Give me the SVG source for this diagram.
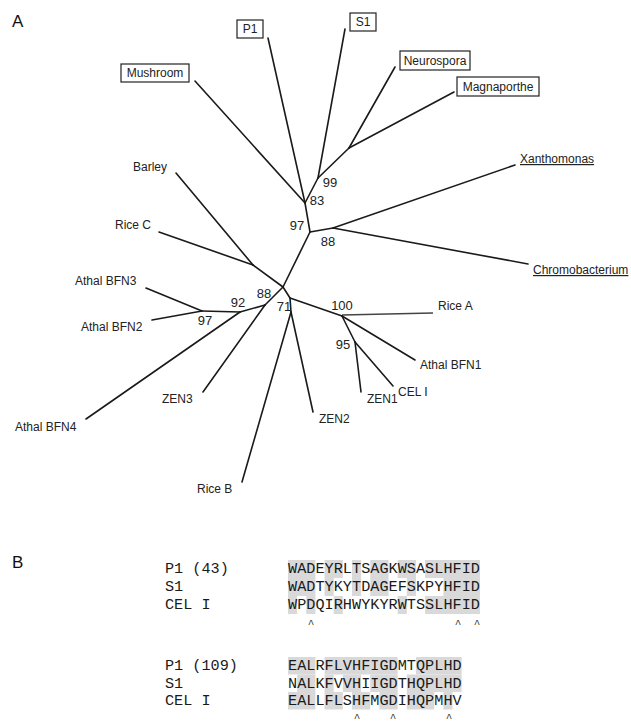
<svg xmlns="http://www.w3.org/2000/svg" width="631" height="724" viewBox="0 0 631 724">
<style>
.br{stroke:#1a1a1a;stroke-width:1.6;fill:none;stroke-linecap:round}
.lf{font-family:"Liberation Sans",Arial,sans-serif;font-size:12px;fill:#222}
.bs{font-family:"Liberation Sans",Arial,sans-serif;font-size:13px;fill:#222}
.box{fill:#fff;stroke:#222;stroke-width:1.2}
.pl{font-family:"Liberation Sans",Arial,sans-serif;font-size:17px;fill:#111}
.sq{font-family:"Liberation Mono","Courier New",monospace;font-size:15.2px;fill:#1a1a1a}
.sh{fill:#d9d9d9}
.ct{font-family:"Liberation Mono","Courier New",monospace;font-size:11px;fill:#333;text-anchor:middle}
</style>
<rect width="631" height="724" fill="#fff"/>
<text class="pl" x="12" y="27">A</text>
<text class="pl" x="12" y="568">B</text>
<g id="connectors">
<line class="br" x1="268" y1="38" x2="305" y2="203"/>
<line class="br" x1="195" y1="81" x2="305" y2="203"/>
<line class="br" x1="345" y1="29" x2="318" y2="178"/>
<line class="br" x1="305" y1="203" x2="318" y2="178"/>
<line class="br" x1="318" y1="178" x2="349" y2="148"/>
<line class="br" x1="349" y1="148" x2="395" y2="67"/>
<line class="br" x1="349" y1="148" x2="454" y2="92"/>
<line class="br" x1="305" y1="203" x2="310" y2="232"/>
<line class="br" x1="310" y1="232" x2="333" y2="228"/>
<line class="br" x1="333" y1="228" x2="515" y2="165"/>
<line class="br" x1="333" y1="228" x2="528" y2="264"/>
<line class="br" x1="310" y1="232" x2="283" y2="287"/>
<line class="br" x1="283" y1="287" x2="253" y2="265"/>
<line class="br" x1="253" y1="265" x2="176" y2="173"/>
<line class="br" x1="253" y1="265" x2="159" y2="232"/>
<line class="br" x1="283" y1="287" x2="265" y2="305"/>
<line class="br" x1="265" y1="305" x2="203" y2="392"/>
<line class="br" x1="265" y1="305" x2="240" y2="312"/>
<line class="br" x1="240" y1="312" x2="86" y2="419"/>
<line class="br" x1="240" y1="312" x2="202" y2="311"/>
<line class="br" x1="202" y1="311" x2="146" y2="288"/>
<line class="br" x1="202" y1="311" x2="152" y2="320"/>
<line class="br" x1="283" y1="287" x2="290" y2="298"/>
<line class="br" x1="290" y1="298" x2="291" y2="312"/>
<line class="br" x1="291" y1="312" x2="242" y2="482"/>
<line class="br" x1="291" y1="312" x2="313" y2="412"/>
<line class="br" x1="290" y1="298" x2="342" y2="316"/>
<line x1="342" y1="315" x2="433" y2="313" stroke="#444" stroke-width="1.3"/>
<line class="br" x1="342" y1="316" x2="415" y2="360"/>
<line class="br" x1="342" y1="316" x2="355" y2="342"/>
<line class="br" x1="355" y1="342" x2="361" y2="392"/>
<line class="br" x1="355" y1="342" x2="393" y2="386"/>
</g>
<g id="bootstrap">
<text class="bs" x="330" y="187" text-anchor="middle">99</text>
<text class="bs" x="317" y="205" text-anchor="middle">83</text>
<text class="bs" x="297" y="230" text-anchor="middle">97</text>
<text class="bs" x="328" y="246" text-anchor="middle">88</text>
<text class="bs" x="264" y="298" text-anchor="middle">88</text>
<text class="bs" x="238" y="307" text-anchor="middle">92</text>
<text class="bs" x="205" y="325" text-anchor="middle">97</text>
<text class="bs" x="284" y="311" text-anchor="middle">71</text>
<text class="bs" x="342" y="310" text-anchor="middle">100</text>
<text class="bs" x="343" y="349" text-anchor="middle">95</text>
</g>
<g id="n-p1"><rect class="box" x="237" y="20" width="26" height="18"/><text class="lf" x="250" y="33" text-anchor="middle">P1</text></g>
<g id="n-s1"><rect class="box" x="350" y="13" width="26" height="18"/><text class="lf" x="363" y="26" text-anchor="middle">S1</text></g>
<g id="n-mushroom"><rect class="box" x="121" y="64" width="68" height="18"/><text class="lf" x="155" y="77" text-anchor="middle">Mushroom</text></g>
<g id="n-neurospora"><rect class="box" x="400" y="51" width="70" height="19"/><text class="lf" x="435" y="64.5" text-anchor="middle">Neurospora</text></g>
<g id="n-magnaporthe"><rect class="box" x="457" y="77" width="82" height="19"/><text class="lf" x="498" y="90.5" text-anchor="middle">Magnaporthe</text></g>
<g id="n-xanthomonas"><text class="lf" x="520" y="163" text-decoration="underline">Xanthomonas</text></g>
<g id="n-chromobacterium"><text class="lf" x="533" y="274" text-decoration="underline">Chromobacterium</text></g>
<g id="n-barley"><text class="lf" x="133" y="171">Barley</text></g>
<g id="n-ricec"><text class="lf" x="115" y="229">Rice C</text></g>
<g id="n-bfn3"><text class="lf" x="75" y="285">Athal BFN3</text></g>
<g id="n-bfn2"><text class="lf" x="81" y="331">Athal BFN2</text></g>
<g id="n-bfn4"><text class="lf" x="15" y="431">Athal BFN4</text></g>
<g id="n-zen3"><text class="lf" x="162" y="403">ZEN3</text></g>
<g id="n-riceb"><text class="lf" x="197" y="493">Rice B</text></g>
<g id="n-zen2"><text class="lf" x="319" y="423">ZEN2</text></g>
<g id="n-zen1"><text class="lf" x="367" y="403">ZEN1</text></g>
<g id="n-celi"><text class="lf" x="398" y="396">CEL I</text></g>
<g id="n-bfn1"><text class="lf" x="420" y="369">Athal BFN1</text></g>
<g id="n-ricea"><text class="lf" x="438" y="310">Rice A</text></g>
<g id="alignment1">
<rect class="sh" x="288" y="560" width="27.42" height="18"/>
<rect class="sh" x="324.56" y="560" width="18.28" height="18"/>
<rect class="sh" x="351.98" y="560" width="9.14" height="18"/>
<rect class="sh" x="370.26" y="560" width="18.28" height="18"/>
<rect class="sh" x="397.68" y="560" width="18.28" height="18"/>
<rect class="sh" x="425.1" y="560" width="54.84" height="18"/>
<rect class="sh" x="288" y="578" width="27.42" height="18"/>
<rect class="sh" x="324.56" y="578" width="9.14" height="18"/>
<rect class="sh" x="351.98" y="578" width="9.14" height="18"/>
<rect class="sh" x="370.26" y="578" width="18.28" height="18"/>
<rect class="sh" x="406.82" y="578" width="9.14" height="18"/>
<rect class="sh" x="443.38" y="578" width="36.56" height="18"/>
<rect class="sh" x="288" y="596" width="9.14" height="18"/>
<rect class="sh" x="306.28" y="596" width="9.14" height="18"/>
<rect class="sh" x="333.7" y="596" width="9.14" height="18"/>
<rect class="sh" x="397.68" y="596" width="9.14" height="18"/>
<rect class="sh" x="425.1" y="596" width="54.84" height="18"/>
<text class="sq" x="165" y="573">P1 (43)</text>
<text class="sq" x="165" y="591">S1</text>
<text class="sq" x="165" y="609">CEL I</text>
<text class="sq" x="288" y="573" textLength="191.94" lengthAdjust="spacing">WADEYRLTSAGKWSASLHFID</text>
<text class="sq" x="288" y="591" textLength="191.94" lengthAdjust="spacing">WADTYKYTDAGEFSKPYHFID</text>
<text class="sq" x="288" y="609" textLength="191.94" lengthAdjust="spacing">WPDQIRHWYKYRWTSSLHFID</text>
<text class="ct" x="311" y="627">^</text>
<text class="ct" x="458" y="627">^</text>
<text class="ct" x="477" y="627">^</text>
</g>
<g id="alignment2">
<rect class="sh" x="288" y="657" width="27.42" height="17.5"/>
<rect class="sh" x="324.56" y="657" width="73.12" height="17.5"/>
<rect class="sh" x="415.96" y="657" width="45.7" height="17.5"/>
<rect class="sh" x="297.14" y="674.5" width="18.28" height="17.5"/>
<rect class="sh" x="324.56" y="674.5" width="9.14" height="17.5"/>
<rect class="sh" x="342.84" y="674.5" width="18.28" height="17.5"/>
<rect class="sh" x="370.26" y="674.5" width="27.42" height="17.5"/>
<rect class="sh" x="406.82" y="674.5" width="54.84" height="17.5"/>
<rect class="sh" x="288" y="692" width="27.42" height="17.5"/>
<rect class="sh" x="324.56" y="692" width="18.28" height="17.5"/>
<rect class="sh" x="351.98" y="692" width="18.28" height="17.5"/>
<rect class="sh" x="379.4" y="692" width="18.28" height="17.5"/>
<rect class="sh" x="406.82" y="692" width="27.42" height="17.5"/>
<rect class="sh" x="443.38" y="692" width="9.14" height="17.5"/>
<text class="sq" x="165" y="670">P1 (109)</text>
<text class="sq" x="165" y="687.5">S1</text>
<text class="sq" x="165" y="705">CEL I</text>
<text class="sq" x="288" y="670" textLength="173.66" lengthAdjust="spacing">EALRFLVHFIGDMTQPLHD</text>
<text class="sq" x="288" y="687.5" textLength="173.66" lengthAdjust="spacing">NALKFVVHIIGDTHQPLHD</text>
<text class="sq" x="288" y="705" textLength="173.66" lengthAdjust="spacing">EALLFLSHFMGDIHQPMHV</text>
<text class="ct" x="357" y="721">^</text>
<text class="ct" x="393" y="721">^</text>
<text class="ct" x="449" y="721">^</text>
</g>
</svg>
